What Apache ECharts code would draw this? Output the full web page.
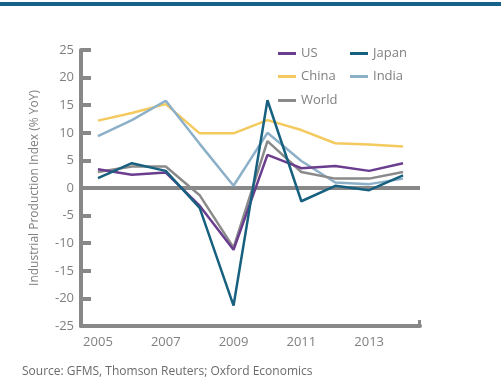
<!DOCTYPE html>
<html><head><meta charset="utf-8">
<script src="https://cdn.jsdelivr.net/npm/echarts@6/dist/echarts.min.js"></script>
<style>html,body{margin:0;padding:0;background:#fff}#c{width:501px;height:382px}</style>
</head><body><div id="c"></div>
<script>
const years = ['2005','2006','2007','2008','2009','2010','2011','2012','2013','2014'];
const us    = [3.4, 2.4, 2.8, -3.2, -11.2, 6.0, 3.6, 4.0, 3.1, 4.5];
const japan = [1.8, 4.5, 3.1, -3.6, -21.3, 15.9, -2.4, 0.4, -0.4, 2.3];
const china = [12.2, 13.6, 15.2, 9.9, 9.9, 12.3, 10.5, 8.1, 7.9, 7.5];
const india = [9.4, 12.3, 15.8, 8.0, 0.4, 10.0, 4.9, 1.0, 0.7, 1.7];
const world = [2.9, 3.9, 3.9, -1.3, -10.8, 8.5, 2.9, 1.7, 1.7, 2.9];
const yTicks = [-25,-20,-15,-10,-5,0,5,10,15,20,25];

const colors = {US:'#6a3d8e', Japan:'#17607f', China:'#f4c95d', India:'#8db0c9', World:'#8a8a8a'};
const font = 'Open Sans';
const chart = echarts.init(document.getElementById('c'));
function mkLegend(name, left, top){
  return {data:[name], left:left, top:top, icon:'rect', itemWidth:18, itemHeight:3,
    textStyle:{color:'#808080', fontSize:13, fontFamily:font}, selectedMode:false, padding:0};
}
function mkSeries(name, data, extra){
  return Object.assign({name:name, type:'line', data:data, symbol:'none', smooth:false,
    lineStyle:{width:2.5, color:colors[name]}, itemStyle:{color:colors[name]}, z:3}, extra||{});
}
chart.setOption({
  animation:false,
  grid:{left:81, right:81, top:50, bottom:56},
  graphic:[
    {type:'rect', shape:{x:0,y:2,width:501,height:4}, style:{fill:'#17628a'}},
    {type:'rect', shape:{x:418,y:320,width:3,height:7}, style:{fill:'#888'}},
    {type:'text', left:22, top:366, style:{text:'Source: GFMS, Thomson Reuters; Oxford Economics', fill:'#6b6b6b', font:'12px "Open Sans"'}}
  ],
  legend:[
    mkLegend('US',278,47), mkLegend('Japan',350,47),
    mkLegend('China',278,70), mkLegend('India',350,70),
    mkLegend('World',278,94)
  ],
  xAxis:{type:'category', data:years, boundaryGap:true,
    axisLine:{onZero:false, lineStyle:{color:'#888', width:4}},
    axisTick:{show:false},
    axisLabel:{interval:1, color:'#808080', fontSize:13, fontFamily:font, margin:10}
  },
  yAxis:{type:'value', min:-25, max:25, interval:5,
    name:'Industrial Production Index (% YoY)', nameLocation:'middle', nameGap:40, nameRotate:90,
    nameTextStyle:{color:'#808080', fontSize:12, fontFamily:font},
    axisLine:{show:true, lineStyle:{color:'#888', width:4}},
    axisTick:{show:true, inside:true, length:10, lineStyle:{color:'#888', width:4}},
    splitLine:{show:false},
    axisLabel:{color:'#808080', fontSize:13, fontFamily:font, margin:7,
      formatter:function(v){return yTicks.indexOf(v)>=0 ? String(v) : '';}}
  },
  series:[
    mkSeries('China', china, {markLine:{silent:true, symbol:'none', label:{show:false},
      lineStyle:{color:'#888', width:4, type:'solid'}, data:[{yAxis:0}], z:1}}),
    mkSeries('India', india),
    mkSeries('World', world),
    mkSeries('US', us),
    mkSeries('Japan', japan)
  ]
});
</script></body></html>
